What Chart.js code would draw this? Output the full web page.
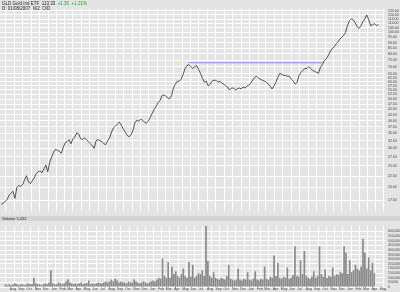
<!DOCTYPE html>
<html>
<head>
<meta charset="utf-8">
<script src="https://cdn.jsdelivr.net/npm/chart.js@4.4.0/dist/chart.umd.min.js"></script>
<style>
  html, body { margin: 0; padding: 0; background: #e4e4e4; }
  body { width: 400px; height: 292px; position: relative; overflow: hidden; font-family: 'Liberation Sans', Arial, sans-serif; }
  #priceWrap { position: absolute; left: 0; top: 0; width: 400px; height: 216px; }
  #volWrap { position: absolute; left: 0; top: 221px; width: 400px; height: 71px; }
  .band { position: absolute; left: 0; top: 216px; width: 400px; height: 5px; background: #d3d3d3; }
  .txt { position: absolute; left: 2px; font-size: 4.5px; line-height: 5px; color: #222; white-space: nowrap; }
  .up { color: #1aa81a; }
</style>
</head>
<body>
<div id="priceWrap"><canvas id="price"></canvas></div>
<div class="band"></div>
<div id="volWrap"><canvas id="volume"></canvas></div>
<div class="txt" style="top:1px">GLD Gold Ind ETF&nbsp; 113.33&nbsp; <span class="up">+1.35&nbsp; +1.21%</span></div>
<div class="txt" style="top:6px">D: 01/08/2007&nbsp; N/2&nbsp; O/D</div>
<div class="txt" style="top:216px;font-size:4px">Volume 5,432</div>
<script>
// weekly closes, first one on 2004-07-16
const firstClose = [2004, 6, 16];
const prices = [
  16.78, 16.95, 17.30, 17.65, 18.44, 18.81, 19.20, 17.83, 20.00, 20.36,
  20.20, 20.56, 21.63, 22.56, 21.20, 20.77, 21.41, 22.07, 23.03, 23.50,
  23.72, 23.26, 24.20, 25.22, 23.50, 26.00, 27.35, 28.80, 29.69, 29.39,
  29.09, 28.51, 30.30, 31.80, 32.17, 32.83, 31.48, 33.16, 33.80, 35.20,
  34.84, 33.16, 32.83, 33.50, 32.83, 32.17, 31.48, 30.85, 29.99, 32.50,
  32.83, 32.50, 32.17, 31.48, 31.16, 32.50, 33.50, 35.62, 37.10, 37.83,
  38.61, 39.37, 38.22, 36.73, 35.62, 34.49, 33.80, 34.49, 35.99, 39.00,
  40.18, 39.77, 40.59, 40.18, 39.37, 39.00, 39.77, 41.38, 43.10, 44.94,
  46.27, 48.20, 49.19, 51.74, 52.27, 51.74, 50.70, 50.20, 51.74, 56.17,
  58.50, 60.26, 60.26, 61.50, 64.70, 68.75, 70.88, 71.60, 70.16, 68.75,
  70.16, 70.88, 68.10, 65.39, 62.12, 59.66, 60.26, 57.32, 58.50, 60.26,
  60.88, 60.88, 59.66, 60.26, 59.05, 58.50, 57.32, 56.75, 55.04, 56.17,
  56.17, 55.04, 55.60, 56.17, 55.60, 56.75, 56.17, 57.32, 57.91, 59.05,
  60.88, 62.76, 63.40, 62.12, 61.50, 60.88, 60.26, 59.66, 58.50, 57.32,
  55.60, 57.32, 59.66, 62.76, 65.39, 64.70, 64.05, 64.05, 63.40, 63.40,
  61.50, 60.26, 58.50, 59.66, 64.05, 66.06, 67.41, 68.75, 68.75, 70.16,
  68.75, 67.41, 66.73, 66.06, 65.39, 69.45, 71.60, 74.57, 76.05, 78.40,
  81.68, 84.21, 85.94, 88.53, 90.35, 93.14, 95.05, 97.00, 100.05, 107.40,
  112.95, 115.24, 114.07, 110.68, 106.30, 104.20, 107.40, 111.81, 115.24, 120.00,
  114.07, 107.40, 108.45, 109.56, 107.40, 108.45
];
const volumes = [
  30000, 20000, 30000, 20000, 30000, 40000, 30000, 20000, 30000, 30000,
  20000, 30000, 40000, 30000, 30000, 100000, 40000, 30000, 30000, 20000,
  30000, 40000, 30000, 50000, 180000, 40000, 30000, 30000, 50000, 40000,
  30000, 40000, 60000, 80000, 50000, 40000, 30000, 40000, 30000, 40000,
  50000, 30000, 40000, 40000, 70000, 30000, 40000, 30000, 40000, 50000,
  40000, 40000, 50000, 60000, 50000, 60000, 80000, 60000, 90000, 70000,
  50000, 60000, 50000, 50000, 40000, 60000, 50000, 50000, 80000, 60000,
  50000, 40000, 50000, 60000, 50000, 40000, 50000, 60000, 70000, 60000,
  80000, 100000, 90000, 310000, 120000, 100000, 270000, 100000, 220000, 140000,
  170000, 120000, 100000, 140000, 200000, 120000, 100000, 270000, 110000, 240000,
  100000, 120000, 150000, 140000, 180000, 120000, 660000, 280000, 120000, 100000,
  160000, 100000, 90000, 80000, 100000, 90000, 80000, 120000, 240000, 90000,
  80000, 70000, 80000, 200000, 80000, 70000, 90000, 80000, 160000, 80000,
  70000, 90000, 170000, 80000, 70000, 90000, 80000, 220000, 90000, 80000,
  110000, 100000, 340000, 120000, 260000, 100000, 90000, 110000, 100000, 210000,
  90000, 100000, 130000, 440000, 120000, 110000, 290000, 140000, 390000, 120000,
  100000, 90000, 110000, 170000, 100000, 120000, 440000, 140000, 110000, 190000,
  100000, 120000, 110000, 210000, 120000, 140000, 130000, 160000, 150000, 440000,
  370000, 140000, 290000, 160000, 180000, 240000, 200000, 180000, 220000, 520000,
  370000, 200000, 320000, 180000, 260000, 150000
];
const priceTicks = [125, 120, 115, 110, 105, 100, 95, 90, 85, 80, 75, 70, 65, 62.5, 60, 57.5,
  55, 52.5, 50, 47.5, 45, 42.5, 40, 37.5, 35, 32.5, 30, 27.5, 25, 22.5, 20, 17.5];
const volumeTicks = [0, 50000, 100000, 150000, 200000, 250000, 300000, 350000, 400000,
  450000, 500000, 550000, 600000];
const monthNames = ['Jan', 'Feb', 'Mar', 'Apr', 'May', 'Jun', 'Jul', 'Aug', 'Sep', 'Oct', 'Nov', 'Dec'];
// horizontal resistance line
const resistanceLevel = 73.0;
const resistanceFrom = [2006, 4, 24];
const resistanceTo = [2007, 8, 21];

// x axis runs in days from 2004-07-11
const START = Date.UTC(2004, 6, 11);
const X_MAX = 1394;
const dayOf = (y, m, d) => (Date.UTC(y, m, d) - START) / 86400000;
const day0 = dayOf(...firstClose);

const monthTicks = [];
for (let y = 2004; y <= 2008; y++) {
  for (let m = 0; m < 12; m++) {
    const d = dayOf(y, m, 1);
    if (d > 0 && d <= X_MAX) monthTicks.push({ value: d, label: monthNames[m] });
  }
}

const GRID = '#ffffff';
const LABEL = '#444444';
const FONT = "'Liberation Sans', Arial, sans-serif";

function xAxis(showLabels) {
  return {
    type: 'linear',
    min: 0,
    max: X_MAX,
    grid: { color: GRID, lineWidth: 1, drawTicks: false },
    border: { display: false },
    afterBuildTicks: axis => { axis.ticks = monthTicks.map(t => ({ value: t.value })); },
    afterFit: axis => { axis.height = showLabels ? 5 : 0; },
    ticks: {
      display: showLabels,
      autoSkip: false,
      maxRotation: 0,
      align: 'start',
      padding: 0,
      color: LABEL,
      font: { family: FONT, size: 3.5 },
      callback: (v, i) => monthTicks[i] ? monthTicks[i].label : '',
    },
  };
}

Chart.defaults.animation = false;

new Chart(document.getElementById('price'), {
  type: 'line',
  data: {
    datasets: [
      {
        data: prices.map((p, i) => ({ x: day0 + 7 * i, y: p })),
        borderColor: '#2b2b2b',
        borderWidth: 0.8,
        pointRadius: 0,
        tension: 0,
      },
      {
        data: [
          { x: dayOf(...resistanceFrom), y: resistanceLevel },
          { x: dayOf(...resistanceTo), y: resistanceLevel },
        ],
        borderColor: '#8c8cff',
        borderWidth: 1,
        pointRadius: 0,
      },
    ],
  },
  options: {
    responsive: true,
    maintainAspectRatio: false,
    layout: { padding: { top: 9, left: 0, right: 0, bottom: 0 } },
    plugins: { legend: { display: false }, tooltip: { enabled: false } },
    scales: {
      x: xAxis(false),
      y: {
        type: 'logarithmic',
        position: 'right',
        min: 15.66,
        max: 127.6,
        grid: { color: GRID, lineWidth: 1, drawTicks: false },
        border: { display: false },
        afterBuildTicks: axis => { axis.ticks = priceTicks.map(v => ({ value: v })); },
        afterFit: axis => { axis.width = 15; },
        ticks: {
          autoSkip: false,
          padding: 3,
          color: LABEL,
          font: { family: FONT, size: 3.5 },
          callback: v => Number(v).toFixed(2),
        },
      },
    },
  },
});

new Chart(document.getElementById('volume'), {
  type: 'bar',
  data: {
    datasets: [{
      data: volumes.map((v, i) => ({ x: day0 + 7 * i, y: v })),
      backgroundColor: '#8a8a8a',
      barPercentage: 0.9,
      categoryPercentage: 1,
    }],
  },
  options: {
    responsive: true,
    maintainAspectRatio: false,
    layout: { padding: { top: 1, left: 0, right: 0, bottom: 0 } },
    plugins: { legend: { display: false }, tooltip: { enabled: false } },
    scales: {
      x: xAxis(true),
      y: {
        position: 'right',
        min: 0,
        max: 660000,
        grid: { color: GRID, lineWidth: 1, drawTicks: false },
        border: { display: false },
        afterBuildTicks: axis => { axis.ticks = volumeTicks.map(v => ({ value: v })); },
        afterFit: axis => { axis.width = 15; },
        ticks: {
          autoSkip: false,
          padding: 3,
          color: LABEL,
          font: { family: FONT, size: 3.3 },
          callback: v => v.toLocaleString('en-US'),
        },
      },
    },
  },
});
</script>
</body>
</html>
